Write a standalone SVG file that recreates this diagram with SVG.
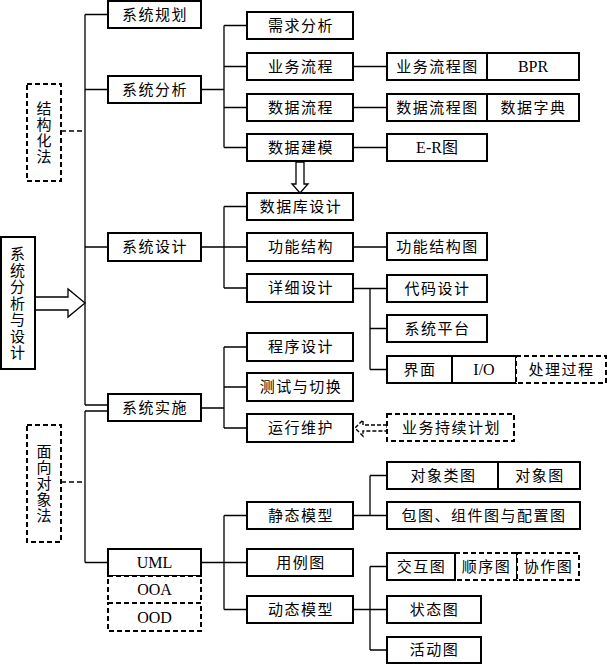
<svg xmlns="http://www.w3.org/2000/svg" width="607" height="665" viewBox="0 0 607 665">
<style>
.b{fill:#fff;stroke:#000;stroke-width:2}
.d{fill:#fff;stroke:#000;stroke-width:2;stroke-dasharray:5 3}
.l{fill:none;stroke:#000;stroke-width:1.3}
.dl{fill:none;stroke:#000;stroke-width:1.6;stroke-dasharray:5 3}
.ha{fill:#fff;stroke:#000;stroke-width:1.3}
.hd{fill:#fff;stroke:#000;stroke-width:1.4;stroke-dasharray:4 2}
text{font-family:"Liberation Serif","Noto Sans CJK SC",serif;font-size:15px;text-anchor:middle;dominant-baseline:central;fill:#000}
.c{letter-spacing:1.5px}
.e{font-size:16px}
</style>
<rect width="607" height="665" fill="#fff"/>
<g id="connectors">
<path class="l" d="M85,14.5V405M85,14.5H108M85,89.5H108M85,247H108M85,405H108"/>
<path class="l" d="M85,411V562.5M85,411H108M85,562.5H108"/>
<path class="dl" d="M61,131H85M61,482H85"/>
<path class="l" d="M201,89.5H224M224,25.5V147.5M224,25.5H247M224,66.5H247M224,107.5H247M224,147.5H247"/>
<path class="l" d="M353,66.5H387M353,107.5H387M353,147.5H387"/>
<path class="l" d="M201,247H224M224,206.5V288M224,206.5H247M224,247H247M224,288H247"/>
<path class="l" d="M353,247H387M353,288.5H387M370,288.5V369.5M370,328.5H387M370,369.5H387"/>
<path class="l" d="M201,408H224M224,347V428M224,347H247M224,387H247M224,428H247"/>
<path class="l" d="M201,562.5H224M224,515.5V609.5M224,515.5H247M224,562.5H247M224,609.5H247"/>
<path class="l" d="M353,515.5H387M370,475.5V515.5M370,475.5H387"/>
<path class="l" d="M353,609.5H387M370,566.5V650M370,566.5H387M370,650H387"/>
<polygon class="ha" points="35,297 68,297 68,289 85,303 68,317 68,310 35,310"/>
<polygon class="ha" points="296,162 304,162 304,184 308,184 300,193 292,184 296,184"/>
<polygon class="hd" points="387,425 363,425 363,420 355,428 363,436 363,431 387,431"/>
</g>
<g id="root"><rect class="b" x="1" y="237" width="34" height="132"/>
<text x="17.5"><tspan x="17.5" y="254">系</tspan><tspan x="17.5" y="270.5">统</tspan><tspan x="17.5" y="287">分</tspan><tspan x="17.5" y="303.5">析</tspan><tspan x="17.5" y="320">与</tspan><tspan x="17.5" y="336.5">设</tspan><tspan x="17.5" y="353">计</tspan></text></g>
<g id="structured"><rect class="d" x="27" y="84" width="34" height="97"/>
<text><tspan x="44" y="108.5">结</tspan><tspan x="44" y="124.5">构</tspan><tspan x="44" y="140.5">化</tspan><tspan x="44" y="156.5">法</tspan></text></g>
<g id="oo"><rect class="d" x="27" y="425" width="34" height="117"/>
<text><tspan x="44" y="451.5">面</tspan><tspan x="44" y="467.5">向</tspan><tspan x="44" y="483.5">对</tspan><tspan x="44" y="499.5">象</tspan><tspan x="44" y="515.5">法</tspan></text></g>
<g id="n-plan"><rect class="b" x="108" y="1" width="93" height="27"/><text class="c" x="155" y="14.5">系统规划</text></g>
<g id="n-analysis"><rect class="b" x="108" y="76" width="93" height="27"/><text class="c" x="155" y="89.5">系统分析</text></g>
<g id="n-design"><rect class="b" x="108" y="233" width="93" height="28"/><text class="c" x="155" y="247">系统设计</text></g>
<g id="n-impl"><rect class="b" x="108" y="394" width="93" height="27"/><text class="c" x="155" y="407.5">系统实施</text></g>
<g id="n-uml"><rect class="b" x="108" y="549" width="93" height="27"/><text class="e" x="154.5" y="562.5">UML</text></g>
<g id="n-ooa"><rect class="d" x="108" y="576" width="93" height="27"/><text class="e" x="154.5" y="589.5">OOA</text></g>
<g id="n-ood"><rect class="d" x="108" y="603" width="93" height="28"/><text class="e" x="154.5" y="617">OOD</text></g>
<g id="n-req"><rect class="b" x="247" y="12" width="106" height="27"/><text class="c" x="301" y="25.5">需求分析</text></g>
<g id="n-bizflow"><rect class="b" x="247" y="53" width="106" height="27"/><text class="c" x="301" y="66.5">业务流程</text></g>
<g id="n-dataflow"><rect class="b" x="247" y="94" width="106" height="27"/><text class="c" x="301" y="107.5">数据流程</text></g>
<g id="n-datamodel"><rect class="b" x="247" y="134" width="106" height="27"/><text class="c" x="301" y="147.5">数据建模</text></g>
<g id="n-db"><rect class="b" x="247" y="193" width="106" height="27"/><text class="c" x="301" y="206.5">数据库设计</text></g>
<g id="n-func"><rect class="b" x="247" y="233" width="106" height="28"/><text class="c" x="301" y="247">功能结构</text></g>
<g id="n-detail"><rect class="b" x="247" y="274" width="106" height="28"/><text class="c" x="301" y="288">详细设计</text></g>
<g id="n-prog"><rect class="b" x="247" y="333" width="106" height="28"/><text class="c" x="301" y="347">程序设计</text></g>
<g id="n-test"><rect class="b" x="247" y="373" width="106" height="28"/><text class="c" x="301" y="387">测试与切换</text></g>
<g id="n-ops"><rect class="b" x="247" y="414" width="106" height="28"/><text class="c" x="301" y="428">运行维护</text></g>
<g id="n-static"><rect class="b" x="247" y="502" width="106" height="27"/><text class="c" x="301" y="515.5">静态模型</text></g>
<g id="n-usecase"><rect class="b" x="247" y="549" width="106" height="27"/><text class="c" x="301" y="562.5">用例图</text></g>
<g id="n-dynamic"><rect class="b" x="247" y="596" width="106" height="27"/><text class="c" x="301" y="609.5">动态模型</text></g>
<g id="n-bizchart"><rect class="b" x="387" y="53" width="100" height="27"/><text class="c" x="437.5" y="66.5">业务流程图</text><rect class="b" x="487" y="53" width="92" height="27"/><text class="e" x="533" y="66.5">BPR</text></g>
<g id="n-datachart"><rect class="b" x="387" y="94" width="100" height="27"/><text class="c" x="437.5" y="107.5">数据流程图</text><rect class="b" x="487" y="94" width="92" height="27"/><text class="c" x="533.5" y="107.5">数据字典</text></g>
<g id="n-er"><rect class="b" x="387" y="134" width="100" height="27"/><text class="e" x="437" y="147.5">E-R图</text></g>
<g id="n-funcchart"><rect class="b" x="387" y="233" width="100" height="27"/><text class="c" x="437.5" y="246.5">功能结构图</text></g>
<g id="n-code"><rect class="b" x="387" y="275" width="100" height="27"/><text class="c" x="437.5" y="288.5">代码设计</text></g>
<g id="n-platform"><rect class="b" x="387" y="315" width="100" height="27"/><text class="c" x="437.5" y="328.5">系统平台</text></g>
<g id="n-ui"><rect class="b" x="387" y="356" width="65" height="27"/><text class="c" x="420" y="369.5">界面</text><rect class="b" x="452" y="356" width="64" height="27"/><text class="e" x="484" y="369.5">I/O</text><rect class="d" x="516" y="356" width="90" height="27"/><text class="c" x="561.5" y="369.5">处理过程</text></g>
<g id="n-bcp"><rect class="d" x="387" y="414" width="127" height="27"/><text class="c" x="451.5" y="427.5">业务持续计划</text></g>
<g id="n-class"><rect class="b" x="387" y="462" width="111" height="27"/><text class="c" x="443.5" y="475.5">对象类图</text><rect class="b" x="498" y="462" width="82" height="27"/><text class="c" x="540" y="475.5">对象图</text></g>
<g id="n-package"><rect class="b" x="387" y="502" width="193" height="27"/><text class="c" x="484" y="515.5">包图、组件图与配置图</text></g>
<g id="n-interact"><rect class="d" x="455" y="553" width="62" height="27"/><rect class="d" x="517" y="553" width="62" height="27"/><rect class="b" x="387" y="553" width="68" height="27"/><text class="c" x="421.5" y="566.5">交互图</text><text class="c" x="486.5" y="566.5">顺序图</text><text class="c" x="548.5" y="566.5">协作图</text></g>
<g id="n-state"><rect class="b" x="387" y="596" width="94" height="27"/><text class="c" x="434.5" y="609.5">状态图</text></g>
<g id="n-activity"><rect class="b" x="387" y="637" width="94" height="26"/><text class="c" x="434.5" y="650">活动图</text></g>
</svg>
